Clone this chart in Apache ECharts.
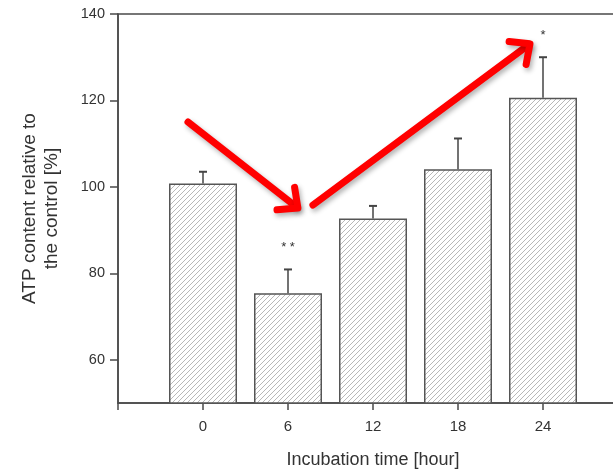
<!DOCTYPE html>
<html>
<head>
<meta charset="utf-8">
<script src="https://cdn.jsdelivr.net/npm/echarts@6/dist/echarts.min.js"></script>
<style>
  html, body { margin: 0; padding: 0; background: #fff; }
  #chart { width: 613px; height: 473px; }
</style>
</head>
<body>
<div id="chart"></div>
<script>
// Incubation times (hours) and ATP content relative to control (%)
var hours = [0, 6, 12, 18, 24];
var atpMean = [100.8, 75.4, 92.7, 104.1, 120.6];
var atpSd = [2.7, 5.5, 2.9, 7.1, 9.4];
var significance = ['', '* *', '', '', '*'];
var yTickValues = [60, 80, 100, 120, 140];

// Trend arrows in data coordinates: [start, end]
var trendArrows = [
  [[-1.06, 115.0], [6.7, 95.1]],
  [[7.76, 95.8], [23.08, 133.1]]
];

var FONT = '"Liberation Sans", Arial, sans-serif';
var TEXT = '#333';
var AXIS = '#4a4a4a';

// Diagonal hatch fill for the bars
function hatchPattern() {
  var s = 5;
  var c = document.createElement('canvas');
  c.width = s; c.height = s;
  var g = c.getContext('2d');
  g.fillStyle = '#fff';
  g.fillRect(0, 0, s, s);
  g.strokeStyle = '#b0b0b0';
  g.lineWidth = 0.9;
  g.beginPath();
  g.moveTo(-1, s + 1); g.lineTo(s + 1, -1);
  g.moveTo(-1, 1); g.lineTo(1, -1);
  g.moveTo(s - 1, s + 1); g.lineTo(s + 1, s - 1);
  g.stroke();
  return c;
}

var barData = hours.map(function (h, i) { return [h, atpMean[i]]; });
var errData = hours.map(function (h, i) { return [h, atpMean[i], atpSd[i], i]; });

var chart = echarts.init(document.getElementById('chart'), null, { renderer: 'canvas' });

chart.setOption({
  animation: false,
  backgroundColor: '#fff',
  grid: {
    left: 118, top: 14, right: -15, bottom: 70,
    outerBoundsMode: 'none', containLabel: false,
    show: true, borderColor: AXIS, borderWidth: 1.5, backgroundColor: 'transparent'
  },
  xAxis: {
    type: 'value', min: -6, max: 30, interval: 6,
    name: 'Incubation time [hour]', nameLocation: 'middle', nameGap: 48,
    nameTextStyle: { fontFamily: FONT, fontSize: 18, color: TEXT },
    axisLine: { show: true, onZero: false, lineStyle: { color: AXIS, width: 1.5 } },
    axisTick: { show: true, length: 7, lineStyle: { color: AXIS, width: 1.5 } },
    axisLabel: {
      margin: 16, fontFamily: FONT, fontSize: 15, color: TEXT,
      formatter: function (v) { return (v < 0 || v > 24) ? '' : String(v); }
    },
    splitLine: { show: false }
  },
  yAxis: {
    type: 'value', min: 50, max: 140,
    name: 'ATP content relative to\nthe control [%]', nameLocation: 'middle', nameGap: 55,
    nameTextStyle: { fontFamily: FONT, fontSize: 19, color: TEXT, lineHeight: 22 },
    axisLine: { show: true, onZero: false, lineStyle: { color: AXIS, width: 1.5 } },
    axisTick: { show: true, length: 8, customValues: yTickValues, lineStyle: { color: AXIS, width: 1.5 } },
    axisLabel: { margin: 13, fontFamily: FONT, fontSize: 14.5, color: TEXT, customValues: yTickValues },
    splitLine: { show: false }
  },
  series: [
    {
      type: 'bar',
      data: barData,
      barWidth: 68,
      itemStyle: {
        color: { image: hatchPattern(), repeat: 'repeat' },
        borderColor: '#555',
        borderWidth: 1.5
      },
      z: 2
    },
    {
      type: 'custom',
      data: errData,
      z: 3,
      renderItem: function (params, api) {
        var x = api.value(0), m = api.value(1), sd = api.value(2), i = api.value(3);
        var base = api.coord([x, m]);
        var top = api.coord([x, m + sd]);
        var cap = 4;
        var children = [
          { type: 'line', shape: { x1: base[0], y1: base[1], x2: top[0], y2: top[1] },
            style: { stroke: '#444', lineWidth: 1.5 } },
          { type: 'line', shape: { x1: top[0] - cap, y1: top[1], x2: top[0] + cap, y2: top[1] },
            style: { stroke: '#444', lineWidth: 2 } }
        ];
        if (significance[i]) {
          children.push({
            type: 'text',
            style: {
              x: top[0], y: top[1] - 22, text: significance[i],
              fontFamily: FONT, fontSize: 13, fill: '#333',
              align: 'center', verticalAlign: 'middle'
            }
          });
        }
        return { type: 'group', children: children };
      }
    }
  ]
});

// Red trend arrows with open arrow heads
function drawArrows() {
  var els = [];
  trendArrows.forEach(function (a) {
    var p0 = chart.convertToPixel({ gridIndex: 0 }, a[0]);
    var p1 = chart.convertToPixel({ gridIndex: 0 }, a[1]);
    var ang = Math.atan2(p1[1] - p0[1], p1[0] - p0[0]);
    var L = 21, spread = Math.PI / 4.2;
    var h1 = [p1[0] - L * Math.cos(ang - spread), p1[1] - L * Math.sin(ang - spread)];
    var h2 = [p1[0] - L * Math.cos(ang + spread), p1[1] - L * Math.sin(ang + spread)];
    var st = {
      stroke: '#ff0000', lineWidth: 7, fill: null, lineCap: 'round', lineJoin: 'round',
      shadowBlur: 5, shadowOffsetX: 2, shadowOffsetY: 3, shadowColor: 'rgba(0,0,0,0.3)'
    };
    els.push({ type: 'polyline', shape: { points: [p0, [p1[0] - 3 * Math.cos(ang), p1[1] - 3 * Math.sin(ang)]] }, style: st, z: 10 });
    els.push({ type: 'polyline', shape: { points: [h1, p1, h2] }, style: st, z: 10 });
  });
  chart.setOption({ graphic: els });
}
drawArrows();
</script>
</body>
</html>
